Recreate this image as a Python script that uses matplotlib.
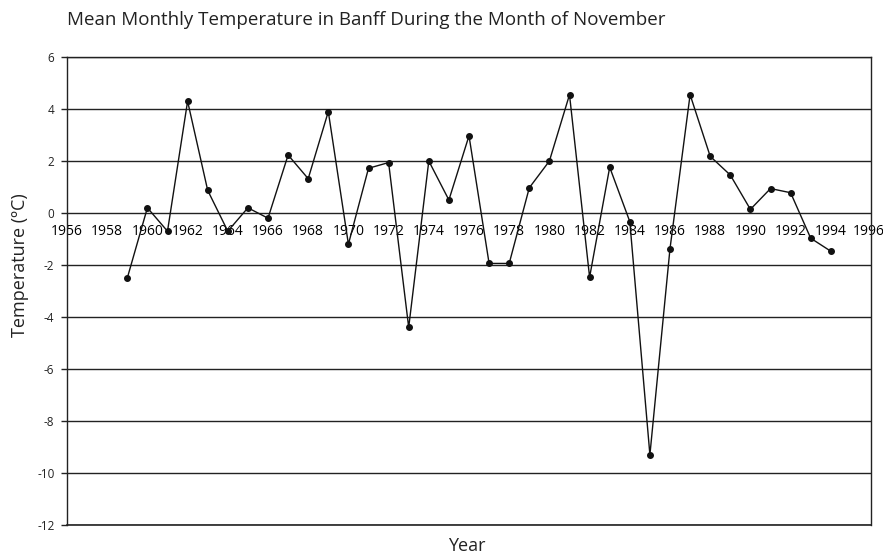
import matplotlib
matplotlib.use("Agg")
import matplotlib.pyplot as plt
import matplotlib.transforms as mtransforms

years = list(range(1959, 1995))
temps = [-2.5, 0.2, -0.7, 4.3, 0.87, -0.7, 0.2, -0.2, 2.23, 1.32,
         3.9, -1.2, 1.72, 1.94, -4.4, 2.0, 0.5, 2.97, -1.94, -1.94,
         0.97, 2.0, 4.55, -2.47, 1.76, -0.33, -9.3, -1.37, 4.55, 2.18,
         1.46, 0.14, 0.94, 0.78, -0.97, -1.47]
xticks = list(range(1956, 1997, 2))
yticks = list(range(-12, 7, 2))

plt.rcParams['font.family'] = ['Open Sans', 'DejaVu Sans']

fig = plt.figure(figsize=(8.83, 5.58), dpi=100)
ax = fig.add_axes([67/883, 1-525/558, 804/883, 468/558])

ax.plot(years, temps, color='#111111', lw=1.0, marker='o', ms=4, zorder=3)

ax.set_xlim(1956, 1996)
ax.set_ylim(-12, 6)
ax.set_xticks(xticks)
ax.set_xticklabels([str(x) for x in xticks], fontsize=7.9, color='#222222')
ax.set_yticks(yticks)
ax.set_yticklabels([str(y) for y in yticks], fontsize=8.5, color='#222222')

ax.spines['bottom'].set_position(('data', 0))
ax.spines['bottom'].set_visible(False)
for s in ['left', 'right', 'top']:
    ax.spines[s].set_color('#222222')
    ax.spines[s].set_linewidth(1.0)
ax.tick_params(axis='x', length=0, pad=8)
ax.tick_params(axis='y', length=4, width=1, color='#222222', pad=5)
ax.yaxis.grid(True, color='#222222', lw=1.0)
ax.axhline(-12, color='#222222', lw=1.2, clip_on=False, zorder=1)
ax.set_axisbelow(True)

# nudge the last x label so it stays inside the image
last = ax.get_xticklabels()[-1]
last.set_transform(last.get_transform() + mtransforms.ScaledTranslation(-2.5/100, 0, fig.dpi_scale_trans))

fig.text(67/883, 1-25/558, 'Mean Monthly Temperature in Banff During the Month of November',
         fontsize=13.5, ha='left', va='baseline', color='#222222')
fig.text(20/883, 1-265/558, 'Temperature (ºC)', fontsize=13, rotation=90,
         ha='center', va='center', color='#222222')
fig.text(467/883, 1-546/558, 'Year', fontsize=13, ha='center', va='center', color='#222222')

fig.savefig('out.png', dpi=100)
